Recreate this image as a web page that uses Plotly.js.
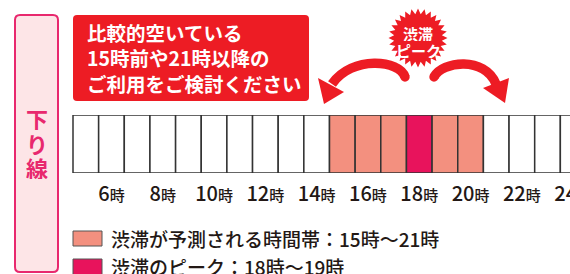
<!DOCTYPE html>
<html><head><meta charset="utf-8">
<script src="https://cdn.plot.ly/plotly-3.0.1.min.js"></script>
<style>html,body{margin:0;padding:0;overflow:hidden;background:#fff;width:570px;height:274px}#chart{width:600px;height:274px}</style>
</head><body><div id="chart"></div>
<script>
// ---- data ----
const hours = [5,6,7,8,9,10,11,12,13,14,15,16,17,18,19,20,21,22,23,24];
const level = [0,0,0,0,0,0,0,0,0,0,1,1,1,2,1,1,0,0,0,0]; // 0 normal, 1 congestion, 2 peak
const tickHours = [6,8,10,12,14,16,18,20,22,24];
const tickLabels = tickHours.map(h => h + '<span style="font-size:15px">時</span>');
const congestion = [15, 21];
const peak = [18, 19];
const boxLines = ['比較的空いている', '15時前や21時以降の', 'ご利用をご検討ください'];
const sideLabel = ['下', 'り', '線'];
const peakBadge = ['渋滞', 'ピーク'];
const legendLabels = [
  `渋滞が予測される時間帯：${congestion[0]}時〜${congestion[1]}時`,
  `渋滞のピーク：${peak[0]}時〜${peak[1]}時`
];

// ---- styles ----
const W = 600, H = 274;
const RED = '#ED1C24', SALMON = '#F3907F', PEAK = '#E8135C', PINK = '#E8286E', INK = '#231815';
const levelColors = ['#FFFFFF', SALMON, PEAK];
const cellLeft = 73, cellW = 25.65, cellTop = 115, cellBottom = 173;
const px = x => x / W, py = y => 1 - y / H;
const P = (x, y) => px(x).toFixed(5) + ',' + py(y).toFixed(5);

function roundRect(x0, y0, x1, y1, r) {
  return `M${P(x0 + r, y0)} L${P(x1 - r, y0)} Q${P(x1, y0)} ${P(x1, y0 + r)} L${P(x1, y1 - r)} Q${P(x1, y1)} ${P(x1 - r, y1)} L${P(x0 + r, y1)} Q${P(x0, y1)} ${P(x0, y1 - r)} L${P(x0, y0 + r)} Q${P(x0, y0)} ${P(x0 + r, y0)} Z`;
}
function star(cx, cy, R, r, n) {
  let s = '';
  for (let i = 0; i < 2 * n; i++) {
    const a = i * Math.PI / n - Math.PI / 2;
    const rr = i % 2 === 0 ? R : r;
    s += (i === 0 ? 'M' : 'L') + P(cx + rr * Math.cos(a), cy + rr * Math.sin(a)) + ' ';
  }
  return s + 'Z';
}
const shapes = [
  {type: 'path', xref: 'paper', yref: 'paper', path: roundRect(15, 15, 58, 272, 5), fillcolor: '#FDE5E7', line: {color: PINK, width: 2}},
  {type: 'path', xref: 'paper', yref: 'paper', path: roundRect(73, 15, 309, 101, 4), fillcolor: RED, line: {width: 0}},
  {type: 'path', xref: 'paper', yref: 'paper', path: star(418, 38, 29.5, 24, 28), fillcolor: RED, line: {width: 0}},
  // left arrow
  {type: 'path', xref: 'paper', yref: 'paper', path: `M${P(405, 77)} C${P(400, 60)} ${P(352, 55)} ${P(332, 84)}`, fillcolor: 'rgba(0,0,0,0)', line: {color: RED, width: 9.5}},
  {type: 'circle', xref: 'paper', yref: 'paper', x0: px(400.3), x1: px(409.7), y0: py(72.3), y1: py(81.7), fillcolor: RED, line: {width: 0}},
  {type: 'path', xref: 'paper', yref: 'paper', path: `M${P(318, 78)} L${P(344, 92)} L${P(324, 104)} Z`, fillcolor: RED, line: {width: 0}},
  // right arrow
  {type: 'path', xref: 'paper', yref: 'paper', path: `M${P(434, 77)} C${P(442, 61)} ${P(485, 56)} ${P(496, 84)}`, fillcolor: 'rgba(0,0,0,0)', line: {color: RED, width: 9.5}},
  {type: 'circle', xref: 'paper', yref: 'paper', x0: px(429.3), x1: px(438.7), y0: py(72.3), y1: py(81.7), fillcolor: RED, line: {width: 0}},
  {type: 'path', xref: 'paper', yref: 'paper', path: `M${P(483, 88)} L${P(509, 78)} L${P(505, 103)} Z`, fillcolor: RED, line: {width: 0}},
  // legend swatches
  {type: 'rect', xref: 'paper', yref: 'paper', x0: px(73), x1: px(102), y0: py(231), y1: py(246), fillcolor: SALMON, line: {color: '#555', width: 1}},
  {type: 'rect', xref: 'paper', yref: 'paper', x0: px(73), x1: px(102), y0: py(259), y1: py(275), fillcolor: PEAK, line: {color: '#555', width: 1}}
];

const annotations = [];
annotations.push({xref: 'paper', yref: 'paper', x: px(85), y: py(58), xanchor: 'left', yanchor: 'middle', align: 'left', showarrow: false,
  text: boxLines.join('<br>'), font: {family: 'Noto Sans CJK JP', size: 19.5, weight: 700, color: '#FFFFFF'}});
sideLabel.forEach((t, i) => annotations.push({xref: 'paper', yref: 'paper', x: px(37), y: py(118 + i * 24.5), xanchor: 'center', yanchor: 'middle', showarrow: false,
  height: 24, text: t, font: {family: 'Noto Sans CJK JP', size: 22, weight: 700, color: PINK}}));
peakBadge.forEach((t, i) => annotations.push({xref: 'paper', yref: 'paper', x: px(418), y: py(33 + i * 17), xanchor: 'center', yanchor: 'middle', showarrow: false,
  height: 16, text: t, font: {family: 'Noto Sans CJK JP', size: 15, weight: 700, color: '#FFFFFF'}}));
legendLabels.forEach((t, i) => annotations.push({xref: 'paper', yref: 'paper', x: px(109), y: py(238 + i * 28), xanchor: 'left', yanchor: 'middle', showarrow: false,
  height: 22, text: t, font: {family: 'Noto Sans CJK JP', size: 19, weight: 500, color: INK}}));

const trace = {
  type: 'bar', x: hours, y: hours.map(() => 1), width: 1,
  marker: {color: level.map(l => levelColors[l]), line: {color: '#333333', width: 1.5}},
  cliponaxis: false, hoverinfo: 'skip', showlegend: false
};

const layout = {
  width: W, height: H, margin: {l: 0, r: 0, t: 0, b: 0, pad: 0},
  paper_bgcolor: '#FFFFFF', plot_bgcolor: 'rgba(0,0,0,0)', bargap: 0, showlegend: false,
  xaxis: {range: [4.5 - cellLeft / cellW, 4.5 + (W - cellLeft) / cellW], domain: [0, 1], showgrid: false, zeroline: false, showline: false,
    ticks: '', tickmode: 'array', tickvals: tickHours, ticktext: tickLabels, ticklabelstandoff: 7,
    tickfont: {family: 'Noto Sans CJK JP', size: 20, weight: 500, color: INK}, fixedrange: true},
  yaxis: {range: [0, 1], domain: [(H - cellBottom) / H, (H - cellTop) / H], visible: false, fixedrange: true},
  shapes: shapes, annotations: annotations
};
Plotly.newPlot('chart', [trace], layout, {staticPlot: true, displayModeBar: false});
</script></body></html>
